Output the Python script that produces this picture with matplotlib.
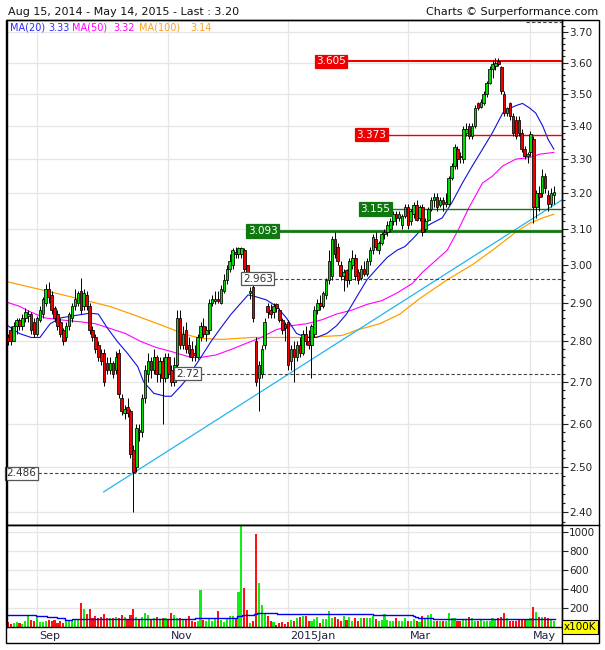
import matplotlib
matplotlib.use('Agg')
import matplotlib.pyplot as plt
import numpy as np
from matplotlib.lines import Line2D
from matplotlib.patches import Rectangle
from matplotlib.ticker import FixedLocator, FormatStrFormatter, NullFormatter

# daily candles, Aug 15 2014 -> May 14 2015 (one entry per trading day)
opens = [2.82, 2.81, 2.83, 2.80, 2.84, 2.855, 2.84, 2.86, 2.865, 2.87,
         2.85, 2.82, 2.855, 2.87, 2.90, 2.935, 2.92, 2.885, 2.87, 2.85,
         2.83, 2.81, 2.84, 2.86, 2.89, 2.90, 2.93, 2.89, 2.92, 2.89,
         2.83, 2.81, 2.79, 2.77, 2.77, 2.745, 2.73, 2.745, 2.73, 2.77,
         2.66, 2.625, 2.64, 2.63, 2.54, 2.50, 2.585, 2.58, 2.66, 2.72,
         2.75, 2.73, 2.76, 2.72, 2.75, 2.71, 2.76, 2.73, 2.70, 2.74,
         2.86, 2.79, 2.83, 2.79, 2.78, 2.77, 2.76, 2.81, 2.84, 2.82,
         2.83, 2.90, 2.905, 2.91, 2.90, 2.93, 2.96, 2.99, 3.00, 3.035,
         3.03, 3.03, 3.04, 3.00, 2.925, 2.94, 2.80, 2.71, 2.72, 2.79,
         2.89, 2.88, 2.875, 2.895, 2.88, 2.855, 2.845, 2.85, 2.75, 2.78,
         2.76, 2.79, 2.77, 2.82, 2.80, 2.79, 2.82, 2.88, 2.90, 2.89,
         2.92, 2.96, 2.97, 3.07, 3.05, 3.00, 2.97, 2.985, 2.96, 3.00,
         3.02, 2.98, 2.965, 2.99, 2.975, 3.01, 3.04, 3.07, 3.04, 3.06,
         3.085, 3.09, 3.10, 3.12, 3.14, 3.13, 3.11, 3.135, 3.16, 3.12,
         3.14, 3.165, 3.13, 3.16, 3.10, 3.125, 3.155, 3.18, 3.19, 3.165,
         3.18, 3.17, 3.17, 3.245, 3.28, 3.33, 3.31, 3.30, 3.38, 3.40,
         3.37, 3.40, 3.47, 3.46, 3.47, 3.50, 3.535, 3.58, 3.59, 3.605,
         3.585, 3.50, 3.44, 3.47, 3.43, 3.42, 3.42, 3.38, 3.33, 3.31,
         3.32, 3.36, 3.16, 3.20, 3.20, 3.25, 3.195, 3.17, 3.195]
highs = [2.83, 2.82, 2.84, 2.85, 2.86, 2.86, 2.87, 2.885, 2.88, 2.875,
         2.86, 2.865, 2.89, 2.915, 2.95, 2.955, 2.93, 2.89, 2.88, 2.86,
         2.835, 2.85, 2.875, 2.90, 2.935, 2.93, 2.965, 2.935, 2.93, 2.90,
         2.84, 2.82, 2.80, 2.78, 2.78, 2.76, 2.76, 2.75, 2.775, 2.78,
         2.67, 2.645, 2.66, 2.635, 2.55, 2.60, 2.60, 2.67, 2.74, 2.77,
         2.76, 2.78, 2.765, 2.76, 2.76, 2.77, 2.77, 2.74, 2.76, 2.88,
         2.88, 2.84, 2.85, 2.81, 2.80, 2.79, 2.82, 2.85, 2.86, 2.84,
         2.91, 2.92, 2.93, 2.93, 2.945, 2.975, 3.00, 3.03, 3.045, 3.05,
         3.05, 3.05, 3.045, 3.00, 2.94, 2.945, 2.81, 2.75, 2.79, 2.86,
         2.90, 2.895, 2.90, 2.90, 2.885, 2.86, 2.85, 2.855, 2.79, 2.80,
         2.80, 2.81, 2.83, 2.84, 2.83, 2.845, 2.89, 2.91, 2.92, 2.93,
         2.965, 3.04, 3.08, 3.09, 3.06, 3.01, 2.99, 2.99, 3.02, 3.04,
         3.03, 2.99, 3.00, 3.01, 3.02, 3.05, 3.085, 3.09, 3.065, 3.09,
         3.10, 3.12, 3.13, 3.15, 3.15, 3.15, 3.14, 3.17, 3.17, 3.155,
         3.175, 3.18, 3.165, 3.17, 3.13, 3.16, 3.19, 3.20, 3.20, 3.19,
         3.19, 3.20, 3.25, 3.29, 3.345, 3.34, 3.32, 3.40, 3.41, 3.41,
         3.41, 3.465, 3.475, 3.485, 3.51, 3.54, 3.59, 3.61, 3.615, 3.615,
         3.59, 3.51, 3.46, 3.475, 3.44, 3.43, 3.43, 3.39, 3.34, 3.32,
         3.385, 3.37, 3.21, 3.22, 3.27, 3.26, 3.21, 3.215, 3.22]
lows = [2.80, 2.79, 2.79, 2.80, 2.82, 2.83, 2.83, 2.85, 2.85, 2.82,
        2.81, 2.815, 2.85, 2.86, 2.89, 2.90, 2.87, 2.85, 2.83, 2.81,
        2.79, 2.80, 2.83, 2.85, 2.88, 2.89, 2.87, 2.88, 2.88, 2.82,
        2.80, 2.77, 2.75, 2.74, 2.69, 2.72, 2.72, 2.71, 2.72, 2.66,
        2.62, 2.61, 2.615, 2.52, 2.40, 2.49, 2.56, 2.57, 2.65, 2.70,
        2.71, 2.72, 2.70, 2.70, 2.60, 2.70, 2.71, 2.69, 2.69, 2.73,
        2.78, 2.78, 2.77, 2.76, 2.75, 2.75, 2.755, 2.80, 2.81, 2.80,
        2.82, 2.89, 2.895, 2.90, 2.895, 2.925, 2.95, 2.98, 2.99, 3.02,
        3.02, 3.02, 2.98, 2.95, 2.91, 2.85, 2.69, 2.63, 2.71, 2.78,
        2.86, 2.86, 2.86, 2.875, 2.85, 2.82, 2.80, 2.73, 2.73, 2.70,
        2.75, 2.76, 2.765, 2.79, 2.78, 2.71, 2.81, 2.87, 2.88, 2.885,
        2.91, 2.95, 2.96, 3.02, 3.00, 2.96, 2.93, 2.94, 2.95, 2.99,
        2.96, 2.95, 2.96, 2.97, 2.97, 3.00, 3.03, 3.04, 3.03, 3.055,
        3.07, 3.08, 3.09, 3.11, 3.11, 3.12, 3.10, 3.13, 3.10, 3.11,
        3.13, 3.12, 3.12, 3.08, 3.09, 3.12, 3.15, 3.16, 3.15, 3.16,
        3.15, 3.16, 3.165, 3.24, 3.27, 3.27, 3.29, 3.29, 3.37, 3.36,
        3.36, 3.395, 3.45, 3.455, 3.465, 3.49, 3.53, 3.55, 3.575, 3.59,
        3.50, 3.43, 3.43, 3.42, 3.37, 3.36, 3.37, 3.32, 3.30, 3.29,
        3.31, 3.115, 3.13, 3.15, 3.19, 3.20, 3.15, 3.16, 3.17]
closes = [2.81, 2.80, 2.80, 2.84, 2.855, 2.84, 2.86, 2.875, 2.87, 2.83,
          2.82, 2.86, 2.88, 2.91, 2.935, 2.915, 2.88, 2.86, 2.84, 2.82,
          2.80, 2.84, 2.87, 2.89, 2.91, 2.925, 2.88, 2.925, 2.89, 2.83,
          2.81, 2.78, 2.76, 2.75, 2.70, 2.73, 2.745, 2.72, 2.76, 2.67,
          2.63, 2.635, 2.625, 2.53, 2.49, 2.59, 2.58, 2.66, 2.73, 2.75,
          2.73, 2.76, 2.72, 2.75, 2.71, 2.76, 2.72, 2.70, 2.74, 2.86,
          2.79, 2.82, 2.78, 2.77, 2.76, 2.765, 2.81, 2.84, 2.82, 2.83,
          2.90, 2.91, 2.91, 2.905, 2.935, 2.96, 2.99, 3.01, 3.04, 3.03,
          3.045, 3.045, 2.99, 2.96, 2.93, 2.86, 2.70, 2.74, 2.78, 2.85,
          2.875, 2.87, 2.89, 2.885, 2.855, 2.83, 2.835, 2.74, 2.78, 2.76,
          2.79, 2.77, 2.82, 2.80, 2.79, 2.84, 2.88, 2.90, 2.89, 2.925,
          2.96, 3.01, 3.07, 3.03, 3.01, 2.97, 2.98, 2.96, 3.01, 3.02,
          2.97, 2.96, 2.99, 2.975, 3.01, 3.04, 3.075, 3.05, 3.06, 3.085,
          3.09, 3.11, 3.12, 3.14, 3.13, 3.14, 3.135, 3.16, 3.11, 3.15,
          3.165, 3.125, 3.16, 3.09, 3.12, 3.155, 3.18, 3.19, 3.16, 3.18,
          3.17, 3.175, 3.245, 3.28, 3.335, 3.30, 3.305, 3.39, 3.39, 3.37,
          3.40, 3.455, 3.455, 3.475, 3.50, 3.535, 3.58, 3.595, 3.60, 3.595,
          3.51, 3.44, 3.455, 3.43, 3.38, 3.37, 3.38, 3.33, 3.31, 3.315,
          3.375, 3.16, 3.20, 3.19, 3.25, 3.215, 3.17, 3.20, 3.205]
# volume, in units of 100K shares
volume = [55, 53, 32, 42, 53, 42, 32, 63, 119, 74,
          63, 109, 53, 53, 63, 74, 63, 74, 42, 63,
          42, 63, 63, 63, 74, 84, 252, 189, 137, 189,
          95, 116, 95, 105, 137, 95, 95, 95, 101, 95,
          130, 108, 77, 130, 192, 108, 84, 108, 150, 130,
          77, 95, 108, 77, 98, 98, 80, 150, 130, 98,
          91, 80, 88, 119, 60, 52, 60, 385, 77, 60,
          91, 60, 91, 172, 70, 52, 95, 119, 119, 80,
          371, 1090, 413, 178, 45, 66, 980, 465, 231, 150,
          115, 66, 49, 20, 45, 56, 31, 56, 73, 66,
          91, 108, 115, 115, 66, 66, 80, 101, 45, 87,
          87, 168, 98, 101, 87, 66, 115, 73, 108, 66,
          95, 66, 95, 95, 95, 95, 119, 84, 60, 70,
          140, 70, 66, 66, 91, 66, 66, 95, 66, 66,
          84, 66, 49, 119, 91, 130, 140, 60, 60, 60,
          60, 60, 150, 95, 95, 66, 60, 80, 70, 108,
          95, 60, 60, 70, 60, 60, 60, 95, 84, 95,
          108, 150, 95, 66, 60, 60, 70, 70, 70, 80,
          91, 213, 160, 110, 110, 105, 90, 70, 60]

# average volume (step line)
avg_vol_idx = [1, 10.7, 14.3, 17.7, 20.6, 22.9, 27.9, 65.1, 76, 79.5,
               81.2, 85.3, 86.3, 93.2, 126, 139.7, 140.4, 141.5, 146.6, 188.4]
avg_vol_val = [126, 112, 102, 91, 77, 84, 86, 95, 100, 112,
               126, 136, 147, 136, 126, 115, 105, 95, 80, 80]

# moving averages
ma20_idx = [1, 5, 9, 12, 15.5, 19, 23, 29, 32, 35, 38.5, 42, 45.5, 47.5, 51,
            55, 57, 60.3, 62.7, 65, 67.1, 70.6, 74, 77.5, 81, 83.3, 86, 89.5,
            93, 96.4, 99.9, 103.3, 106.7, 110.2, 113.6, 117, 120.5, 124, 127.4,
            130.9, 134.3, 137, 139.5, 143, 146.3, 149.8, 153.2, 156.7, 160.1,
            163.6, 167, 170.5, 172.9, 175.6, 177.3, 179.8, 181.8, 184.2, 186, 188]
ma20_val = [2.84, 2.82, 2.81, 2.81, 2.845, 2.86, 2.865, 2.872, 2.87, 2.835,
            2.80, 2.77, 2.737, 2.70, 2.672, 2.665, 2.665, 2.69, 2.71, 2.737,
            2.76, 2.80, 2.835, 2.87, 2.90, 2.92, 2.915, 2.907, 2.89, 2.86,
            2.82, 2.81, 2.81, 2.82, 2.84, 2.87, 2.915, 2.96, 2.99, 3.02,
            3.04, 3.05, 3.07, 3.10, 3.115, 3.13, 3.175, 3.23, 3.28, 3.33,
            3.38, 3.44, 3.455, 3.465, 3.47, 3.455, 3.44, 3.40, 3.36, 3.33]
ma50_idx = [1, 5, 8.6, 13.8, 19, 25.8, 31, 36, 41.3, 46.5, 51.7, 56.8, 63.7,
            67.1, 72.3, 77.5, 82.6, 87.8, 93, 98.1, 103.3, 108.5, 113.6, 118.8,
            124, 129.1, 134.3, 139.5, 143, 151.5, 155.5, 159, 163.6, 167, 170.5,
            175, 179.8, 183.2, 188]
ma50_val = [2.90, 2.89, 2.876, 2.86, 2.855, 2.85, 2.845, 2.833, 2.82, 2.80,
            2.785, 2.775, 2.76, 2.76, 2.766, 2.78, 2.795, 2.81, 2.83, 2.84,
            2.845, 2.855, 2.87, 2.88, 2.895, 2.905, 2.925, 2.95, 2.98, 3.04,
            3.10, 3.16, 3.23, 3.25, 3.28, 3.30, 3.305, 3.315, 3.32]
ma100_idx = [0.7, 15.5, 26.9, 36.2, 44.1, 53.4, 57.9, 62.7, 67.1, 74, 84.4,
             101.6, 115.4, 121, 128.4, 135.3, 142, 151.5, 160, 167, 175, 179.8,
             184.2, 188]
ma100_val = [2.955, 2.928, 2.907, 2.889, 2.868, 2.842, 2.829, 2.816, 2.808,
             2.805, 2.81, 2.81, 2.815, 2.83, 2.845, 2.87, 2.91, 2.96, 3.00,
             3.04, 3.09, 3.115, 3.13, 3.14]

# support / resistance levels and trend line
levels = [3.605, 3.373, 3.155, 3.093, 2.963, 2.72, 2.486]
level_start = [117.4, 131.2, 132.6, 94.0, 92.3, 67.1, 11.4]
trend_idx = [33.85, 190.8]
trend_val = [2.445, 3.181]

month_labels = ['Sep', 'Nov', '2015Jan', 'Mar', 'May']
month_idx = [11, 56, 97, 138, 180]

o = np.array(opens); h = np.array(highs); l = np.array(lows); c = np.array(closes)
n = len(c)
idx = np.arange(n)
up = c >= o

W, H = 605, 650
fig = plt.figure(figsize=(W / 100, H / 100), dpi=100)
def fx(px):
    return px / W
def fy(py):
    return 1 - py / H

ax = fig.add_axes([fx(7), fy(525), fx(562) - fx(7), fy(20) - fy(525)])
axv = fig.add_axes([fx(7), fy(627), fx(562) - fx(7), fy(525) - fy(627)])
XL = (0.72, 190.8)
grid_c = '#e6e6e6'

# ---- price panel
ax.set_yscale('log')
ax.set_ylim(2.373, 3.741)
ax.set_xlim(*XL)
ax.yaxis.set_major_locator(FixedLocator(np.round(np.arange(2.4, 3.71, 0.1), 2)))
ax.yaxis.set_minor_locator(FixedLocator(np.round(np.arange(2.38, 3.74, 0.02), 2)))
ax.yaxis.set_major_formatter(FormatStrFormatter('%.2f'))
ax.yaxis.set_minor_formatter(NullFormatter())
ax.yaxis.tick_right()
ax.tick_params(axis='y', which='major', length=4, width=0.8, labelsize=7.5, pad=1, colors='#222222')
ax.tick_params(axis='y', which='minor', length=2, width=0.8, colors='#222222')
ax.set_xticks([])
ax.grid(axis='y', which='major', color=grid_c, lw=0.9, zorder=0)
for m in month_idx:
    ax.axvline(m, color=grid_c, lw=0.9, zorder=0)
for s in ax.spines.values():
    s.set_linewidth(1.0)

ax.plot(ma100_idx, ma100_val, color='#ffa000', lw=0.9, zorder=2)
ax.plot(ma50_idx, ma50_val, color='#ff00ff', lw=0.8, zorder=2)
ax.plot(ma20_idx, ma20_val, color='#1010e0', lw=0.8, zorder=2)
ax.plot(trend_idx, trend_val, color='#22b4ee', lw=0.9, zorder=2)

# levels
lvl_style = [dict(color='#ee0000', lw=1.5, ls='-'), dict(color='#ee0000', lw=1.0, ls='-'),
             dict(color='#117711', lw=1.0, ls='-'), dict(color='#117711', lw=2.0, ls='-'),
             dict(color='#444444', lw=0.8, ls=(0, (3, 2))), dict(color='#444444', lw=0.8, ls=(0, (3, 2))),
             dict(color='#444444', lw=0.8, ls=(0, (3, 2)))]
box_style = [('#ee0000', 'white', '#ee0000'), ('#ee0000', 'white', '#ee0000'),
             ('#117711', 'white', '#117711'), ('#117711', 'white', '#117711'),
             ('white', '#333333', '#555555'), ('white', '#333333', '#555555'),
             ('white', '#333333', '#555555')]
for lv, st, sty, bs in zip(levels, level_start, lvl_style, box_style):
    ax.hlines(lv, st, XL[1], zorder=3, **sty)
    ax.text(st - 0.6, lv, f'{lv:g}', ha='right', va='center', fontsize=7.5, color=bs[1], zorder=6,
            bbox=dict(boxstyle='square,pad=0.15', fc=bs[0], ec=bs[2], lw=0.9))
ax.hlines(3.733, 178.4, XL[1], color='#444444', lw=0.8, ls=(0, (3, 2)), zorder=3)

# candles
ax.vlines(idx, l, h, color='black', lw=0.7, zorder=4)
body_lo = np.minimum(o, c)
body_h = np.maximum(np.abs(c - o), 0.003)
ax.bar(idx, body_h, bottom=body_lo, width=0.88, color=np.where(up, '#00dd00', '#ee0000'),
       edgecolor='black', lw=0.55, zorder=5)

# ---- volume panel
axv.set_xlim(*XL)
axv.set_ylim(0, 1075)
axv.bar(idx, volume, width=0.72, color=np.where(up, '#11ee11', '#ff1111'), zorder=2)
axv.plot(avg_vol_idx, avg_vol_val, drawstyle='steps-post', color='#0000ee', lw=1.0, zorder=3)
axv.yaxis.tick_right()
axv.set_yticks([200, 400, 600, 800, 1000])
axv.tick_params(axis='y', length=4, width=0.8, labelsize=7.5, pad=1, colors='#222222')
axv.set_xticks([])
axv.grid(axis='y', color=grid_c, lw=0.9, zorder=0)
for m in month_idx:
    axv.axvline(m, color=grid_c, lw=0.9, zorder=0)
for s in axv.spines.values():
    s.set_linewidth(1.0)
for lab, m in zip(month_labels, month_idx):
    axv.text(m + 0.8, -0.085, lab, transform=axv.get_xaxis_transform(), ha='left', va='center',
             fontsize=8, color='#222244')

# ---- frame and header
fig.add_artist(Rectangle((fx(6), fy(643)), fx(599) - fx(6), fy(20) - fy(643), fill=False,
                         lw=1.0, ec='black', transform=fig.transFigure))
fig.add_artist(Line2D([fx(562), fx(562)], [fy(20), fy(643)], lw=1.0, color='black'))
fig.add_artist(Line2D([fx(7), fx(599)], [fy(525), fy(525)], lw=1.0, color='black'))
fig.text(fx(580), fy(627), 'x100K', ha='center', va='center', fontsize=7.5, color='black',
         bbox=dict(boxstyle='square,pad=0.15', fc='#ffff00', ec='black', lw=0.8))

fig.text(fx(8), fy(12), 'Aug 15, 2014 - May 14, 2015 - Last : 3.20', ha='left', va='center',
         fontsize=8, color='#111111')
fig.text(fx(598), fy(12), 'Charts \u00a9 Surperformance.com', ha='right', va='center',
         fontsize=8, color='#111111')
legend_items = [('MA(20)', 10, '#2b2bff'), ('3.33', 48, '#2b2bff'), ('MA(50)', 72, '#ff00ff'),
                ('3.32', 113, '#ff00ff'), ('MA(100)', 139, '#ffa020'), ('3.14', 190, '#ffa020')]
for txt, px, col in legend_items:
    fig.text(fx(px), fy(28), txt, ha='left', va='center', fontsize=7, color=col)

fig.savefig('out.png', dpi=100)
